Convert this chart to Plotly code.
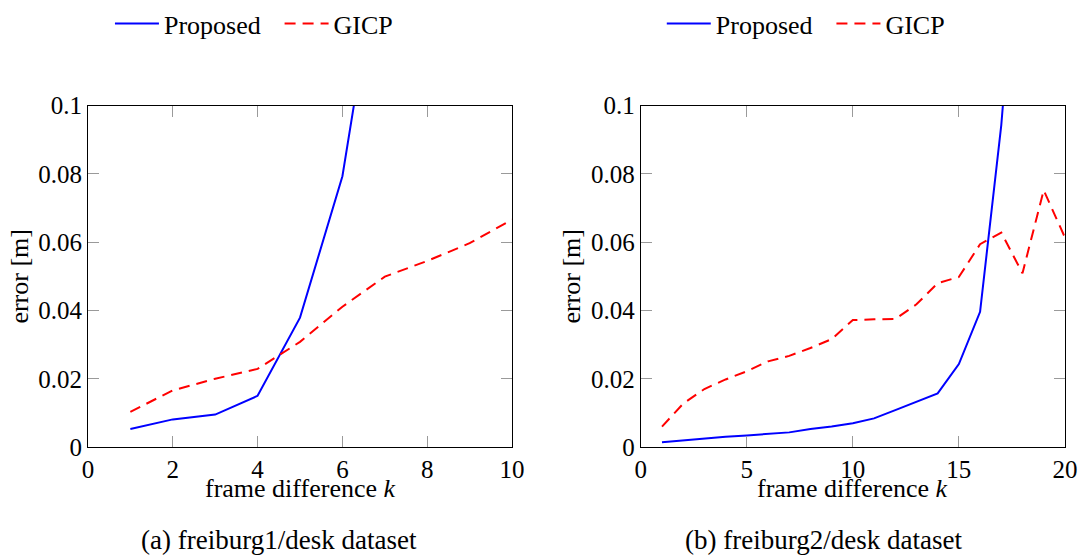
import plotly.graph_objects as go

# Left panel: freiburg1/desk
k_left = [1, 2, 3, 4, 5, 6, 7]
proposed_left = [0.0053, 0.0081, 0.0095, 0.0150, 0.0379, 0.0793, 0.156]
k_left_gicp = [1, 2, 3, 4, 5, 6, 7, 8, 9, 10]
gicp_left = [0.0103, 0.0166, 0.0200, 0.0229, 0.0308, 0.0411, 0.0499, 0.0545, 0.0597, 0.0666]

# Right panel: freiburg2/desk
k_right = [1, 2, 3, 4, 5, 6, 7, 8, 9, 10, 11, 12, 13, 14, 15, 16, 17, 18]
proposed_right = [0.0014, 0.0020, 0.0025, 0.0030, 0.0034, 0.0038, 0.0043, 0.0053, 0.0060,
                  0.0070, 0.0084, 0.0108, 0.0133, 0.0157, 0.0243, 0.0396, 0.0943, 0.17]
k_right_gicp = [1, 2, 3, 4, 5, 6, 7, 8, 9, 10, 11, 12, 13, 14, 15, 16, 17, 18, 19, 20]
gicp_right = [0.0060, 0.0127, 0.0170, 0.0198, 0.0222, 0.0251, 0.0267, 0.0290, 0.0316, 0.0372,
              0.0374, 0.0375, 0.0418, 0.0480, 0.0498, 0.0594, 0.0628, 0.0509, 0.0752, 0.0614]

y_ticks = [0, 0.02, 0.04, 0.06, 0.08, 0.1]
y_tick_text = ["0", "0.02", "0.04", "0.06", "0.08", "0.1"]
x_ticks_left = [0, 2, 4, 6, 8, 10]
x_ticks_right = [0, 5, 10, 15, 20]
x_title = "frame difference <i>k</i>"
y_title = "error [m]"
captions = ["(a) freiburg1/desk dataset", "(b) freiburg2/desk dataset"]

FONT = "'Liberation Serif', 'DejaVu Serif', serif"
BLUE = "rgb(0,0,255)"
RED = "rgb(255,0,0)"
DASH = "11px,7px"

W, H = 1084, 558
# The captured page (8px body margin) is slightly larger than the window and is
# scaled to fit; map target screen positions to figure paper fractions.
SX, SY, OFF = 1100 / 1084, 574 / 558, 8


def px(x):
    return (x * SX - OFF) / W


def py(y):
    return 1 - (y * SY - OFF) / H


fig = go.Figure()
fig.add_trace(go.Scatter(x=k_left, y=proposed_left, mode="lines", name="Proposed",
                         line=dict(color=BLUE, width=2), xaxis="x", yaxis="y", legend="legend"))
fig.add_trace(go.Scatter(x=k_left_gicp, y=gicp_left, mode="lines", name="GICP",
                         line=dict(color=RED, width=2, dash=DASH), xaxis="x", yaxis="y", legend="legend2"))
fig.add_trace(go.Scatter(x=k_right, y=proposed_right, mode="lines", name="Proposed",
                         line=dict(color=BLUE, width=2), xaxis="x2", yaxis="y2", legend="legend3"))
fig.add_trace(go.Scatter(x=k_right_gicp, y=gicp_right, mode="lines", name="GICP",
                         line=dict(color=RED, width=2, dash=DASH), xaxis="x2", yaxis="y2", legend="legend4"))

ydom = [py(451), py(101.5)]

tick_font = dict(family=FONT, size=25, color="black")
title_font = dict(family=FONT, size=26, color="black")
leg_font = dict(family=FONT, size=26, color="black")

common_axis = dict(showgrid=False, zeroline=False, showline=True, linecolor="black", linewidth=1,
                   mirror="ticks", ticks="inside", ticklen=11, tickcolor="#9a9a9a", tickwidth=1,
                   tickfont=tick_font)


def leg(xref_px):
    return dict(orientation="h", x=px(xref_px) - 3 / W, y=py(17), xanchor="left", yanchor="middle",
                font=leg_font, bgcolor="rgba(0,0,0,0)", itemwidth=44, tracegroupgap=0)


fig.update_layout(
    width=W, height=H,
    margin=dict(l=0, r=0, t=0, b=0),
    paper_bgcolor="white", plot_bgcolor="white",
    font=dict(family=FONT, size=25, color="black"),
    xaxis=dict(domain=[px(90), px(515)], range=[0, 10], tickvals=x_ticks_left, anchor="y",
               **common_axis),
    yaxis=dict(domain=ydom, range=[0, 0.1], tickvals=y_ticks, ticktext=y_tick_text, anchor="x",
               title=dict(text=y_title, standoff=2, font=title_font),
               **common_axis),
    xaxis2=dict(domain=[px(644), px(1069)], range=[0, 20], tickvals=x_ticks_right, anchor="y2",
                **common_axis),
    yaxis2=dict(domain=ydom, range=[0, 0.1], tickvals=y_ticks, ticktext=y_tick_text, anchor="x2",
                title=dict(text=y_title, standoff=2, font=title_font),
                **common_axis),
    legend=leg(115),
    legend2=leg(285),
    legend3=leg(668),
    legend4=leg(838),
    showlegend=True,
)

# x-axis titles placed just below the tick labels
for cx in (302.5, 856.5):
    fig.add_annotation(text=x_title, x=px(cx), y=py(493), xref="paper", yref="paper",
                       showarrow=False, font=title_font, xanchor="center", yanchor="middle")

fig.add_annotation(text=captions[0], x=px(281), y=py(546), xref="paper", yref="paper",
                   showarrow=False, font=dict(family=FONT, size=27), xanchor="center", yanchor="middle")
fig.add_annotation(text=captions[1], x=px(827), y=py(546), xref="paper", yref="paper",
                   showarrow=False, font=dict(family=FONT, size=27), xanchor="center", yanchor="middle")

fig.write_html("out.html")
